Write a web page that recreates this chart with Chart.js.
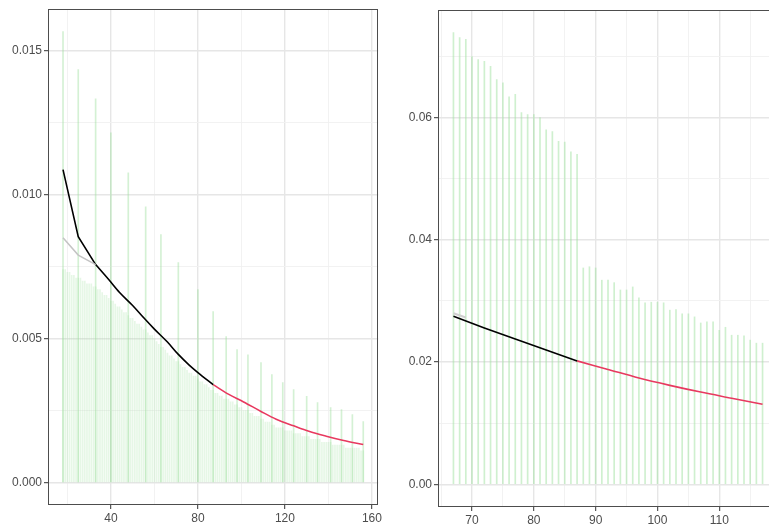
<!DOCTYPE html>
<html>
<head>
<meta charset="utf-8">
<script src="https://cdn.jsdelivr.net/npm/chart.js@4.4.0/dist/chart.umd.min.js"></script>
<style>
html, body { margin: 0; padding: 0; background: #fff; overflow: hidden; width: 769px; height: 527px; }
#wrapL { position: absolute; left: 0; top: 0; width: 384px; height: 527px; }
#wrapR { position: absolute; left: 388px; top: 0; width: 392px; height: 527px; }
</style>
</head>
<body>
<div id="wrapL"><canvas id="leftChart" width="384" height="527"></canvas></div>
<div id="wrapR"><canvas id="rightChart" width="392" height="527"></canvas></div>
<script>
// ---- left panel data ----
var leftBandStart = 18;   // one thin bar per integer x, 18..156
var leftBand = [
    0.0074, 0.0074, 0.0073, 0.0073, 0.0072, 0.0072, 0.0071, 0.0071, 0.0071, 0.0070,
    0.0070, 0.0069, 0.0069, 0.0069, 0.0068, 0.0068, 0.0067, 0.0067, 0.0066, 0.0065,
    0.0065, 0.0064, 0.0063, 0.0063, 0.0062, 0.0061, 0.0061, 0.0060, 0.0059, 0.0059,
    0.0058, 0.0057, 0.0057, 0.0056, 0.0055, 0.0055, 0.0054, 0.0053, 0.0053, 0.0052,
    0.0051, 0.0051, 0.0050, 0.0049, 0.0048, 0.0047, 0.0047, 0.0046, 0.0045, 0.0044,
    0.0044, 0.0043, 0.0042, 0.0042, 0.0041, 0.0040, 0.0040, 0.0039, 0.0038, 0.0038,
    0.0037, 0.0037, 0.0036, 0.0035, 0.0035, 0.0034, 0.0034, 0.0033, 0.0032, 0.0032,
    0.0031, 0.0031, 0.0030, 0.0030, 0.0029, 0.0029, 0.0029, 0.0028, 0.0028, 0.0027,
    0.0027, 0.0026, 0.0026, 0.0025, 0.0025, 0.0025, 0.0024, 0.0024, 0.0023, 0.0023,
    0.0023, 0.0022, 0.0022, 0.0021, 0.0021, 0.0021, 0.0020, 0.0020, 0.0019, 0.0019,
    0.0019, 0.0019, 0.0018, 0.0018, 0.0018, 0.0018, 0.0017, 0.0017, 0.0017, 0.0017,
    0.0016, 0.0016, 0.0016, 0.0016, 0.0015, 0.0015, 0.0015, 0.0015, 0.0015, 0.0014,
    0.0014, 0.0014, 0.0014, 0.0014, 0.0013, 0.0013, 0.0013, 0.0013, 0.0013, 0.0013,
    0.0012, 0.0012, 0.0012, 0.0012, 0.0012, 0.0012, 0.0012, 0.0011, 0.0011
];
var leftSpikeX = [18, 25, 33, 40, 48, 56, 63, 71, 80, 87, 93, 98, 103, 109, 114, 119, 124, 130, 135, 141, 146, 151, 156];
var leftSpikeY = [0.01566, 0.01434, 0.01333, 0.01215, 0.01076, 0.00958, 0.00861, 0.00764, 0.0067, 0.00594,
                  0.00507, 0.00462, 0.00444, 0.00417, 0.00375, 0.00347, 0.00323, 0.00299, 0.00278, 0.0026,
                  0.00253, 0.00236, 0.00212];
var leftGrayX = [18, 25, 33];
var leftGrayY = [0.0085, 0.0079, 0.00757];
var leftStartX = [18, 25, 33];              // first, kinked part of the black fit
var leftStartY = [0.01087, 0.00854, 0.00757];
var leftFitX = [33, 39, 44, 50, 55, 60, 66, 71, 76, 80, 87];
var leftFitY = [0.00757, 0.00705, 0.0066, 0.00615, 0.00573, 0.00533, 0.00488, 0.00445, 0.00408, 0.00382, 0.0034];
var leftPredX = [87, 94, 101, 109, 116, 124, 131, 139, 147, 156];
var leftPredY = [0.0034, 0.00307, 0.0028, 0.00247, 0.0022, 0.00197, 0.00178, 0.00161, 0.00146, 0.00132];
var leftXMajor = [40, 80, 120, 160], leftXMinor = [20, 60, 100, 140];
var leftYMajor = [0, 0.005, 0.010, 0.015], leftYMinor = [0.0025, 0.0075, 0.0125];

// ---- right panel data ----
var rightBarStart = 67;   // one bar per integer x, 67..117
var rightBars = [
    0.0739, 0.0731, 0.0728, 0.0700, 0.0695, 0.0692, 0.0684, 0.0662, 0.0657, 0.0634,
    0.0638, 0.0608, 0.0605, 0.0605, 0.0600, 0.0580, 0.0577, 0.0561, 0.0560, 0.0544,
    0.0540, 0.0354, 0.0356, 0.0354, 0.0334, 0.0334, 0.0330, 0.0318, 0.0318, 0.0323,
    0.0305, 0.0297, 0.0298, 0.0298, 0.0297, 0.0285, 0.0286, 0.0279, 0.0279, 0.0274,
    0.0264, 0.0266, 0.0266, 0.0252, 0.0257, 0.0244, 0.0244, 0.0243, 0.0236, 0.0231,
    0.0231
];
var rightGrayX = [67, 69];
var rightGrayY = [0.0280, 0.0273];
var rightFitX = [67, 72, 77, 82, 87];
var rightFitY = [0.0275, 0.0256, 0.0238, 0.0220, 0.0202];
var rightPredX = [87, 92, 97, 102, 107, 112, 117];
var rightPredY = [0.0202, 0.0188, 0.0174, 0.0162, 0.0151, 0.0141, 0.0131];
var rightXMajor = [70, 80, 90, 100, 110], rightXMinor = [65, 75, 85, 95, 105, 115];
var rightYMajor = [0, 0.02, 0.04, 0.06], rightYMinor = [0.01, 0.03, 0.05, 0.07];

var textCol = '#4D4D4D';

function pts(xs, ys) {
    return xs.map(function (x, i) { return { x: x, y: ys[i] }; });
}
function seq(start, ys) {
    return ys.map(function (y, i) { return { x: start + i, y: y }; });
}
function tickSet(major, minor) {
    return major.map(function (v) { return { value: v, main: true }; })
        .concat(minor.map(function (v) { return { value: v, main: false }; }))
        .sort(function (a, b) { return a.value - b.value; });
}

var panelBorder = {
    id: 'panelBorder',
    afterDraw: function (chart) {
        var a = chart.chartArea, c = chart.ctx;
        c.save();
        c.strokeStyle = '#4D4D4D';
        c.lineWidth = 1;
        c.strokeRect(Math.round(a.left) + 0.5, Math.round(a.top) + 0.5,
            Math.round(a.right - a.left) - 1, Math.round(a.bottom - a.top) - 1);
        c.restore();
    }
};

function axis(min, max, major, minor, fmt, size, isY) {
    return {
        type: 'linear',
        min: min,
        max: max,
        offset: false,
        afterBuildTicks: function (s) { s.ticks = tickSet(major, minor); },
        afterFit: function (s) { if (isY) { s.width = size; } else { s.height = size; } },
        border: { display: false },
        grid: {
            offset: false,
            color: function (ctx) { return ctx.tick && ctx.tick.main ? '#E6E6E6' : '#F1F1F1'; },
            lineWidth: function (ctx) { return ctx.tick && ctx.tick.main ? 1.4 : 0.9; },
            tickColor: function (ctx) { return ctx.tick && ctx.tick.main ? '#333333' : 'rgba(0,0,0,0)'; },
            tickLength: 4,
            tickWidth: 1
        },
        ticks: {
            color: textCol,
            font: { family: '"Liberation Sans", Arial, sans-serif', size: 12 },
            padding: 2,
            maxRotation: 0,
            autoSkip: false,
            callback: function (value, index, ticks) {
                return ticks[index].main ? fmt(value) : '';
            }
        }
    };
}

function barSet(data, color) {
    return { type: 'bar', data: data, backgroundColor: color, barThickness: 1, grouped: false, order: 5 };
}
function lineSet(data, color, width, smooth) {
    return {
        type: 'line', data: data, borderColor: color, borderWidth: width, pointRadius: 0,
        tension: 0, cubicInterpolationMode: smooth ? 'monotone' : 'default', fill: false, order: 1
    };
}

Chart.defaults.animation = false;

var ctxL = document.getElementById('leftChart').getContext('2d');
var leftChart = new Chart(ctxL, {
    type: 'bar',
    data: {
        datasets: [
            barSet(seq(leftBandStart, leftBand), 'rgba(160, 225, 160, 0.26)'),
            barSet(pts(leftSpikeX, leftSpikeY), 'rgba(160, 225, 160, 0.45)'),
            lineSet(pts(leftGrayX, leftGrayY), '#C4C4C4', 1.5, false),
            lineSet(pts(leftStartX, leftStartY), '#000000', 1.6, false),
            lineSet(pts(leftFitX, leftFitY), '#000000', 1.6, true),
            lineSet(pts(leftPredX, leftPredY), '#E8395F', 1.6, true)
        ]
    },
    options: {
        responsive: false,
        layout: { padding: { top: 9, right: 2, left: 0, bottom: 0 } },
        plugins: { legend: { display: false }, tooltip: { enabled: false } },
        scales: {
            x: axis(11.1, 162.9, leftXMajor, leftXMinor, function (v) { return String(v); }, 22, false),
            y: axis(-0.00078, 0.01644, leftYMajor, leftYMinor, function (v) { return v.toFixed(3); }, 48, true)
        }
    },
    plugins: [panelBorder]
});

var ctxR = document.getElementById('rightChart').getContext('2d');
var rightChart = new Chart(ctxR, {
    type: 'bar',
    data: {
        datasets: [
            barSet(seq(rightBarStart, rightBars), 'rgba(160, 225, 160, 0.5)'),
            lineSet(pts(rightGrayX, rightGrayY), '#D0D0D0', 2, false),
            lineSet(pts(rightFitX, rightFitY), '#000000', 1.6, false),
            lineSet(pts(rightPredX, rightPredY), '#E8395F', 1.6, true)
        ]
    },
    options: {
        responsive: false,
        layout: { padding: { top: 10, right: 2, left: 0, bottom: 0 } },
        plugins: { legend: { display: false }, tooltip: { enabled: false } },
        scales: {
            x: axis(64.5, 119.5, rightXMajor, rightXMinor, function (v) { return String(v); }, 20, false),
            y: axis(-0.0037, 0.0776, rightYMajor, rightYMinor, function (v) { return v.toFixed(2); }, 50, true)
        }
    },
    plugins: [panelBorder]
});
</script>
</body>
</html>
